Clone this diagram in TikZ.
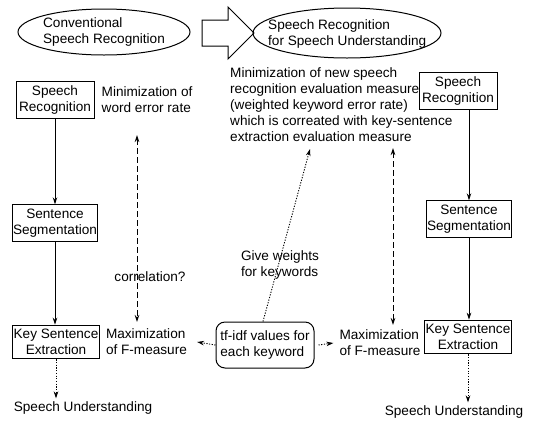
\documentclass[tikz,border=0pt]{standalone}
\usepackage{fontspec}
\setmainfont{Liberation Sans}
\usepackage{tikz}
\usetikzlibrary{shapes.geometric}
\usetikzlibrary{arrows.meta}
\usetikzlibrary{positioning}
\tikzset{>={Stealth[length=7pt,width=4.5pt]}}
\tikzset{
    procbox/.style={draw, line width=1pt, align=center, inner xsep=1pt, inner ysep=4pt, minimum width=78pt},
    plaintext/.style={align=left, inner sep=0pt},
    flow/.style={->, line width=1pt},
    corr/.style={<->, line width=0.9pt, dash pattern=on 6pt off 3pt},
    weight/.style={->, line width=0.9pt, dash pattern=on 1.2pt off 1.5pt}
}

\begin{document}
\begin{tikzpicture}[x=1pt, y=-1pt, font=\fontsize{13.6}{16}\selectfont]
                    \useasboundingbox (0,0) rectangle (535,421);
                    \node[ellipse, draw, line width=1pt, minimum width=172pt, minimum height=46pt] (convell) at (104,32) {};
                    \node[plaintext] (convtxt) at (convell) {Conventional\\Speech Recognition};
                    \draw[line width=1pt] (202,20) -- (228,20) -- (228,7) -- (254,33) -- (228,59) -- (228,46) -- (202,46) -- cycle;
                    \node[ellipse, draw, line width=1pt, minimum width=188pt, minimum height=50pt] (newell) at (347,33) {};
                    \node[plaintext, anchor=west] (newtxt) at (268,34) {Speech Recognition\\for Speech Understanding};

                    \node[procbox] (srL) at (55,100) {Speech\\Recognition};
                    \node[plaintext, right=7pt of srL] (werL) {Minimization of\\word error rate};
                    \node[procbox] (ssL) at (55,223) {Sentence\\Segmentation};
                    \node[procbox] (kseL) at (56,342) {Key Sentence\\Extraction};
                    \node[plaintext, right=6pt of kseL] (fmL) {Maximization\\of F-measure};
                    \node[plaintext] (suL) at (83,408) {Speech Understanding};
                    \node[plaintext] (corrq) at (150,277) {correlation?};

                    \node[plaintext, anchor=north west] (newmeas) at (230,67) {Minimization of new speech\\recognition evaluation measure\\(weighted keyword error rate)\\which is correated with key-sentence\\extraction evaluation measure};
                    \node[procbox] (srR) at (458,91) {Speech\\Recognition};
                    \node[procbox] (ssR) at (469,219) {Sentence\\Segmentation};
                    \node[procbox] (kseR) at (468,337) {Key Sentence\\Extraction};
                    \node[plaintext] (fmR) at (380,343) {Maximization\\of F-measure};
                    \node[plaintext] (suR) at (454,412) {Speech Understanding};

                    \node[draw, line width=1pt, rounded corners=9pt, align=left, inner xsep=3pt, inner ysep=5pt, minimum width=98pt, minimum height=46pt] (tfidf) at (265,345) {tf-idf values for\\each keyword};
                    \node[plaintext] (give) at (280,265) {Give weights\\for keywords};

                    \coordinate (corrtopL) at (137,135);
                    \coordinate (corrbotL) at (137,322);
                    \coordinate (corrtopR) at (393,148);
                    \coordinate (corrbotR) at (393,325);
                    \coordinate (wtip) at (310,149);

                    \draw[flow] (srL.south) -- (srL.south |- ssL.north);
                    \draw[flow] (ssL.south) -- (ssL.south |- kseL.north);
                    \draw[flow] (ssR.north |- srR.south) -- (ssR.north);
                    \draw[flow] (ssR.south) -- (ssR.south |- kseR.north);
                    \draw[corr] (corrtopL) -- (corrbotL);
                    \draw[corr] (corrtopR) -- (corrbotR);
                    \draw[weight] ([xshift=-2pt]tfidf.north) -- (wtip);
                    \draw[weight] (tfidf.west) -- ([xshift=10pt]fmL.east);
                    \draw[weight] ([xshift=4pt]tfidf.east) -- ([xshift=-6pt]fmR.west);
                    \draw[weight] (kseL.south) -- ([yshift=3pt]kseL.south |- suL.north);
                    \draw[weight] (kseR.south) -- ([yshift=3pt]kseR.south |- suR.north);
                \end{tikzpicture}
\end{document}
